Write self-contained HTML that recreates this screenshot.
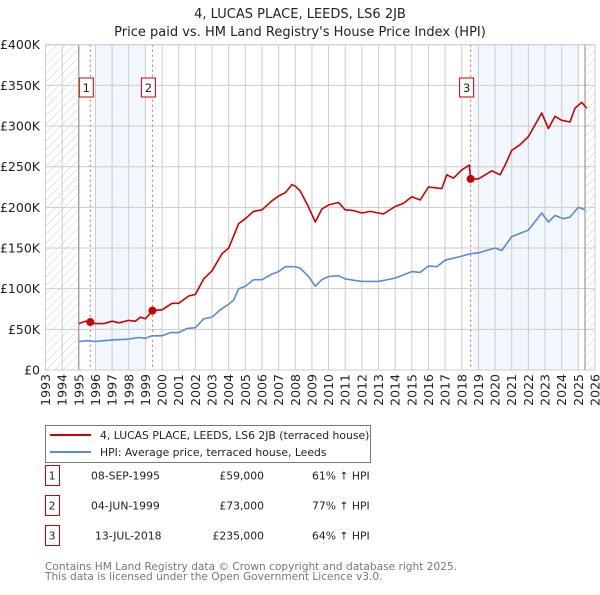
<!DOCTYPE html>
<html><head><meta charset="utf-8">
<style>
body{margin:0;background:#fff;font-family:"Liberation Sans","DejaVu Sans",sans-serif;}
svg text{font-family:"DejaVu Sans","Liberation Sans",sans-serif;}
</style></head>
<body>
<svg id="chart" width="600" height="590" viewBox="0 0 600 590">
<defs>
<pattern id="hatch" width="6" height="6" patternUnits="userSpaceOnUse" patternTransform="rotate(45)">
<line x1="0" y1="0" x2="0" y2="6" stroke="#ccc" stroke-width="1"/>
</pattern>
</defs>
<text x="300" y="18" text-anchor="middle" font-size="13" fill="#222">4, LUCAS PLACE, LEEDS, LS6 2JB</text>
<text x="300" y="36" text-anchor="middle" font-size="13" fill="#222">Price paid vs. HM Land Registry's House Price Index (HPI)</text>
<g id="plot"></g>
<g>
<rect x="45.5" y="425.5" width="325" height="37" fill="#fff" stroke="#777"/>
<line x1="50" y1="435" x2="91" y2="435" stroke="#cc0000" stroke-width="2"/>
<text x="100" y="439" font-size="10.8" fill="#222">4, LUCAS PLACE, LEEDS, LS6 2JB (terraced house)</text>
<line x1="50" y1="452" x2="91" y2="452" stroke="#5b8bd0" stroke-width="2"/>
<text x="100" y="456" font-size="10.8" fill="#222">HPI: Average price, terraced house, Leeds</text>
</g>
<g id="table" font-size="10.8" fill="#222"></g>
<text x="45" y="570" font-size="10.6" fill="#777">Contains HM Land Registry data © Crown copyright and database right 2025.</text>
<text x="45" y="580" font-size="10.6" fill="#777">This data is licensed under the Open Government Licence v3.0.</text>
</svg>
<script>
const yearTicks=[1993,1994,1995,1996,1997,1998,1999,2000,2001,2002,2003,2004,2005,2006,2007,2008,2009,2010,2011,2012,2013,2014,2015,2016,2017,2018,2019,2020,2021,2022,2023,2024,2025,2026];
const priceTicks=[0,50,100,150,200,250,300,350,400];
const priceTickLabels=["£0","£50K","£100K","£150K","£200K","£250K","£300K","£350K","£400K"];
const redYears=[1995,1995.4,1995.69,1996,1996.5,1997,1997.4,1998,1998.4,1998.7,1999,1999.42,2000,2000.6,2001,2001.6,2002,2002.5,2003,2003.6,2004,2004.3,2004.6,2005,2005.5,2006,2006.6,2007,2007.4,2007.8,2008,2008.3,2008.8,2009.2,2009.6,2010,2010.6,2011,2011.5,2012,2012.5,2013,2013.3,2014,2014.5,2015,2015.5,2016,2016.8,2017.1,2017.5,2018,2018.45,2018.53,2019,2019.8,2020.3,2020.6,2021,2021.5,2022,2022.8,2023.2,2023.6,2024,2024.5,2024.8,2025.2,2025.5];
const redValues=[57,60,59,57,57,60,58,61,60,65,63,73,74,82,82,91,93,112,122,143,150,165,180,186,195,197,208,214,218,228,226,220,200,182,198,203,206,197,196,193,195,193,192,201,205,213,209,225,223,240,236,246,252,235,235,245,240,252,270,277,287,316,297,312,307,305,322,329,322];
const hpiYears=[1995,1995.5,1996,1996.5,1997,1998,1998.6,1999,1999.4,2000,2000.5,2001,2001.5,2002,2002.5,2003,2003.5,2004,2004.3,2004.6,2005,2005.5,2006,2006.6,2007,2007.4,2008,2008.3,2008.8,2009.2,2009.6,2010,2010.6,2011,2012,2013,2014,2015,2015.5,2016,2016.5,2017,2018,2018.53,2019,2020,2020.4,2021,2022,2022.8,2023.2,2023.6,2024.1,2024.5,2025,2025.4];
const hpiValues=[35,36,35,36,37,38,40,39,42,42,46,46,51,52,63,65,74,81,86,100,103,111,111,118,121,127,127,125,115,103,111,115,116,112,109,109,113,121,120,128,127,135,140,143,144,150,147,164,172,193,182,190,186,188,200,197];
const saleYears=[1995.69,1999.42,2018.53];
const saleValues=[59,73,235];
const saleLabels=["1","2","3"];
const saleDates=["08-SEP-1995","04-JUN-1999","13-JUL-2018"];
const salePrices=["£59,000","£73,000","£235,000"];
const saleHpi=["61% ↑ HPI","77% ↑ HPI","64% ↑ HPI"];

const NS="http://www.w3.org/2000/svg";
const X0=45.5,X1=595,Y0=370,Y1=44.7;
const xs=y=>X0+(y-1993)*(X1-X0)/33;
const ys=v=>Y0-v*(Y0-Y1)/400;
function mk(tag,attrs,parent){const e=document.createElementNS(NS,tag);for(const k in attrs)e.setAttribute(k,attrs[k]);parent.appendChild(e);return e;}
const g=document.getElementById('plot');
let r;
r=mk('rect',{x:xs(1996),y:Y1,width:xs(1999)-xs(1996),height:Y0-Y1,fill:'#f2f6fd'},g);


r=mk('rect',{x:xs(2018.7),y:Y1,width:xs(2025)-xs(2018.7),height:Y0-Y1,fill:'#f2f6fd'},g);


r=mk('rect',{x:X0,y:Y1,width:xs(1995)-X0,height:Y0-Y1,fill:'url(#hatch)'},g);


r=mk('rect',{x:xs(2025.4),y:Y1,width:X1-xs(2025.4),height:Y0-Y1,fill:'url(#hatch)'},g);


yearTicks.forEach(y=>{const l=mk('line',{x1:xs(y),x2:xs(y),y1:Y1,y2:Y0,stroke:'#ccc','stroke-width':1},g);


const t=mk('text',{x:0,y:0,transform:`translate(${xs(y)+4.5},374) rotate(-90)`,'text-anchor':'end','font-size':12.5,fill:'#222'},g);t.textContent=y;

});
priceTicks.forEach((v,i)=>{const l=mk('line',{x1:X0,x2:X1,y1:ys(v),y2:ys(v),stroke:'#ccc','stroke-width':1},g);


const t=mk('text',{x:40,y:ys(v)+4.5,'text-anchor':'end','font-size':12.5,fill:'#222'},g);t.textContent=priceTickLabels[i];

});
[xs(1995),xs(2025.4)].forEach(x=>{const l=mk('line',{x1:x,x2:x,y1:Y1,y2:Y0,stroke:'#888','stroke-width':1},g);

});
saleYears.forEach((y,i)=>{const l=mk('line',{x1:xs(y),x2:xs(y),y1:Y1,y2:Y0,stroke:'#e06060','stroke-width':1,'stroke-dasharray':'2,3'},g);

});
function path(xsA,vs,col,name){const d=xsA.map((y,i)=>(i?'L':'M')+xs(y).toFixed(1)+','+ys(vs[i]).toFixed(1)).join('');
const p=mk('path',{d:d,fill:'none',stroke:col,'stroke-width':1.6,'stroke-linejoin':'round'},g);

}
path(hpiYears,hpiValues,'#5b8bd0','hpi-line');
path(redYears,redValues,'#cc0000','property-price-line');
saleYears.forEach((y,i)=>{const c=mk('circle',{cx:xs(y),cy:ys(saleValues[i]),r:4,fill:'#cc0000'},g);


const bx=xs(y)-11;
const b=mk('rect',{x:bx,y:78,width:14,height:19,fill:'#fff',stroke:'#cc0000'},g);


const t=mk('text',{x:bx+7,y:92,'text-anchor':'middle','font-size':11.5,fill:'#222'},g);t.textContent=saleLabels[i];

});
const ax=mk('rect',{x:X0,y:Y1,width:X1-X0,height:Y0-Y1,fill:'none',stroke:'#ccc'},g);


const tb=document.getElementById('table');


saleLabels.forEach((s,i)=>{const yy=475+i*30;
const b=mk('rect',{x:45.5,y:yy-9.5,width:14,height:20,fill:'#fff',stroke:'#cc0000'},tb);


const cells=[[52,s,'middle'],[i==2?95:91,saleDates[i],'start'],[264,salePrices[i],'end'],[312,saleHpi[i],'start']];
cells.forEach(c=>{const t=mk('text',{x:c[0],y:yy+4.5,'text-anchor':c[2]},tb);t.textContent=c[1];

});});
</script>
</body></html>
